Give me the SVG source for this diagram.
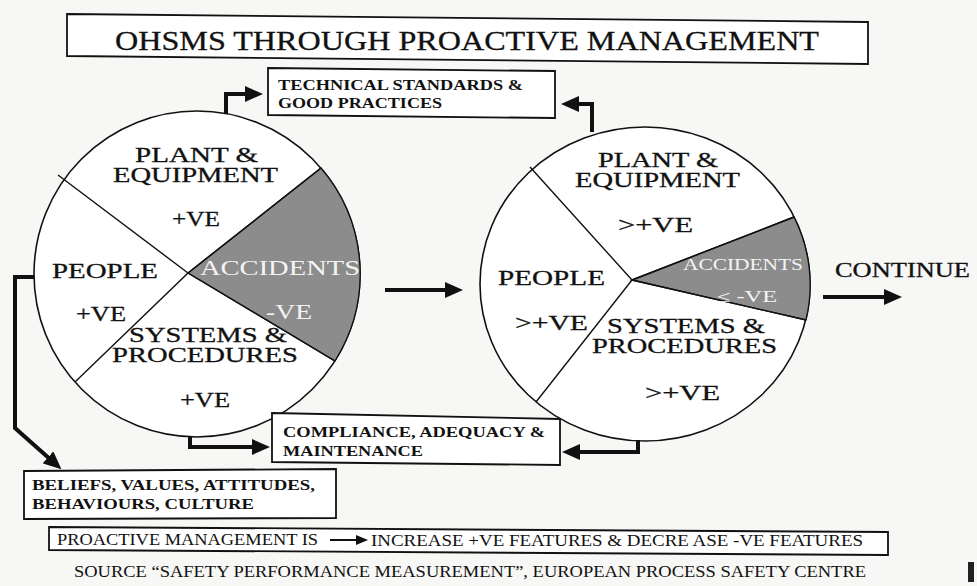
<svg xmlns="http://www.w3.org/2000/svg" width="977" height="586" viewBox="0 0 977 586">
<style>
.bg{fill:#f7f7f5}
.box{fill:#ffffff;stroke:#111;stroke-width:1.8}
.circ{fill:#ffffff;stroke:#111;stroke-width:1.6}
.spoke{fill:none;stroke:#111;stroke-width:1.4}
.shade{fill:#8c8c8c;stroke:#111;stroke-width:1.4}
.lbl{font-family:"Liberation Serif","DejaVu Serif",serif;font-size:21px;fill:#111;stroke:#111;stroke-width:0.3}
.wlbl{font-family:"Liberation Serif","DejaVu Serif",serif;fill:#f4f4f4}
.btxt{font-family:"Liberation Serif","DejaVu Serif",serif;font-weight:bold;font-size:15px;fill:#111}
.ntxt{font-family:"Liberation Serif","DejaVu Serif",serif;font-size:16px;fill:#111}
.conn{fill:none;stroke:#111;stroke-width:4;stroke-linejoin:miter}
.thin{fill:none;stroke:#111;stroke-width:2}
</style>
<defs>
<marker id="ah" markerUnits="userSpaceOnUse" viewBox="0 0 18 16" markerWidth="18" markerHeight="16" refX="4" refY="8" orient="auto">
<path d="M0,0 L18,8 L0,16 Z" fill="#111"/>
</marker>
<marker id="ahs" markerUnits="userSpaceOnUse" viewBox="0 0 12 10" markerWidth="12" markerHeight="10" refX="2" refY="5" orient="auto">
<path d="M0,0 L12,5 L0,10 Z" fill="#111"/>
</marker>
</defs>
<rect class="bg" x="0" y="0" width="977" height="586"/>

<g id="title">
<polygon class="box" points="67,14 868,22 868,64 67,56"/>
<text class="lbl" x="115" y="50" textLength="704" lengthAdjust="spacingAndGlyphs" style="font-size:28px">OHSMS THROUGH PROACTIVE MANAGEMENT</text>
</g>

<g id="tech-standards">
<polygon class="box" points="268,68 555,71 555,118 268,115"/>
<text class="btxt" x="278" y="90" textLength="245" lengthAdjust="spacingAndGlyphs" style="font-size:14px">TECHNICAL STANDARDS &amp;</text>
<text class="btxt" x="278" y="108" textLength="164" lengthAdjust="spacingAndGlyphs" style="font-size:14px">GOOD PRACTICES</text>
</g>

<g id="left-circle">
<circle class="circ" cx="197" cy="274" r="163"/>
<path class="shade" d="M188,273 L321,168 A163,163 0 0,1 335,361 Z"/>
<path class="spoke" d="M58,175 L188,273 L75,382 M188,273 L321,168 M188,273 L335,361"/>
<text class="lbl" x="135" y="162" textLength="123" lengthAdjust="spacingAndGlyphs">PLANT &amp;</text>
<text class="lbl" x="113" y="182" textLength="165" lengthAdjust="spacingAndGlyphs">EQUIPMENT</text>
<text class="lbl" x="172" y="226" textLength="48" lengthAdjust="spacingAndGlyphs">+VE</text>
<text class="lbl" x="52" y="278" textLength="106" lengthAdjust="spacingAndGlyphs">PEOPLE</text>
<text class="wlbl" x="200" y="275" style="font-size:22px" textLength="160" lengthAdjust="spacingAndGlyphs">ACCIDENTS</text>
<text class="wlbl" x="266" y="319" style="font-size:22px" textLength="46" lengthAdjust="spacingAndGlyphs">-VE</text>
<text class="lbl" x="76" y="321" textLength="50" lengthAdjust="spacingAndGlyphs">+VE</text>
<text class="lbl" x="129" y="342" textLength="158" lengthAdjust="spacingAndGlyphs">SYSTEMS &amp;</text>
<text class="lbl" x="112" y="362" textLength="186" lengthAdjust="spacingAndGlyphs">PROCEDURES</text>
<text class="lbl" x="180" y="407" textLength="50" lengthAdjust="spacingAndGlyphs">+VE</text>
</g>

<g id="right-circle">
<ellipse class="circ" cx="645" cy="284" rx="165" ry="157"/>
<path class="shade" d="M632,280 L794,217 A165,157 0 0,1 806,320 Z"/>
<path class="spoke" d="M530,167 L632,280 L536,402 M632,280 L794,217 M632,280 L806,320"/>
<text class="lbl" x="598" y="167" textLength="120" lengthAdjust="spacingAndGlyphs">PLANT &amp;</text>
<text class="lbl" x="575" y="187" textLength="165" lengthAdjust="spacingAndGlyphs">EQUIPMENT</text>
<text class="lbl" x="618" y="232" textLength="75" lengthAdjust="spacingAndGlyphs">&gt;+VE</text>
<text class="lbl" x="498" y="285" textLength="107" lengthAdjust="spacingAndGlyphs">PEOPLE</text>
<text class="wlbl" x="683" y="270" style="font-size:16px" textLength="120" lengthAdjust="spacingAndGlyphs">ACCIDENTS</text>
<text class="wlbl" x="717" y="302" style="font-size:16px" textLength="60" lengthAdjust="spacingAndGlyphs">≤ -VE</text>
<text class="lbl" x="515" y="330" textLength="73" lengthAdjust="spacingAndGlyphs">&gt;+VE</text>
<text class="lbl" x="607" y="333" textLength="158" lengthAdjust="spacingAndGlyphs">SYSTEMS &amp;</text>
<text class="lbl" x="592" y="353" textLength="185" lengthAdjust="spacingAndGlyphs">PROCEDURES</text>
<text class="lbl" x="645" y="400" textLength="75" lengthAdjust="spacingAndGlyphs">&gt;+VE</text>
</g>

<g id="continue">
<text class="lbl" x="835" y="277" style="font-size:20px" textLength="135" lengthAdjust="spacingAndGlyphs">CONTINUE</text>
</g>

<g id="compliance">
<polygon class="box" points="272,413 560,419 560,465 272,462"/>
<text class="btxt" x="283" y="437" textLength="262" lengthAdjust="spacingAndGlyphs">COMPLIANCE, ADEQUACY &amp;</text>
<text class="btxt" x="283" y="456" textLength="140" lengthAdjust="spacingAndGlyphs">MAINTENANCE</text>
</g>

<g id="beliefs">
<polygon class="box" points="24,471 336,469 336,518 24,519"/>
<text class="btxt" x="32" y="490" textLength="283" lengthAdjust="spacingAndGlyphs">BELIEFS, VALUES, ATTITUDES,</text>
<text class="btxt" x="32" y="509" textLength="222" lengthAdjust="spacingAndGlyphs">BEHAVIOURS, CULTURE</text>
</g>

<g id="proactive">
<polygon class="box" points="49,527 888,532 888,555 49,550"/>
<text class="ntxt" x="57" y="545" textLength="261" lengthAdjust="spacingAndGlyphs">PROACTIVE MANAGEMENT IS</text>
<path class="thin" d="M330,540 H358" marker-end="url(#ahs)"/>
<text class="ntxt" x="371" y="546" textLength="492" lengthAdjust="spacingAndGlyphs">INCREASE +VE FEATURES &amp; DECRE ASE -VE FEATURES</text>
</g>

<g id="source">
<text class="ntxt" x="74" y="577" textLength="792" lengthAdjust="spacingAndGlyphs">SOURCE “SAFETY PERFORMANCE MEASUREMENT”, EUROPEAN PROCESS SAFETY CENTRE</text>
</g>

<g id="connectors">
<path class="conn" d="M226,114 V94 H249" marker-end="url(#ah)"/>
<path class="conn" d="M592,132 V104 H575" marker-end="url(#ah)"/>
<path class="conn" d="M190,436 V447 H256" marker-end="url(#ah)"/>
<path class="conn" d="M638,440 V452 H576" marker-end="url(#ah)"/>
<path class="conn" d="M34,277 H15 V428 L51,460" marker-end="url(#ah)"/>
<path class="conn" d="M385,290 H449" marker-end="url(#ah)"/>
<path class="conn" d="M823,297 H888" marker-end="url(#ah)"/>
</g>

<rect x="968" y="562" width="6" height="20" fill="#222"/>
</svg>
